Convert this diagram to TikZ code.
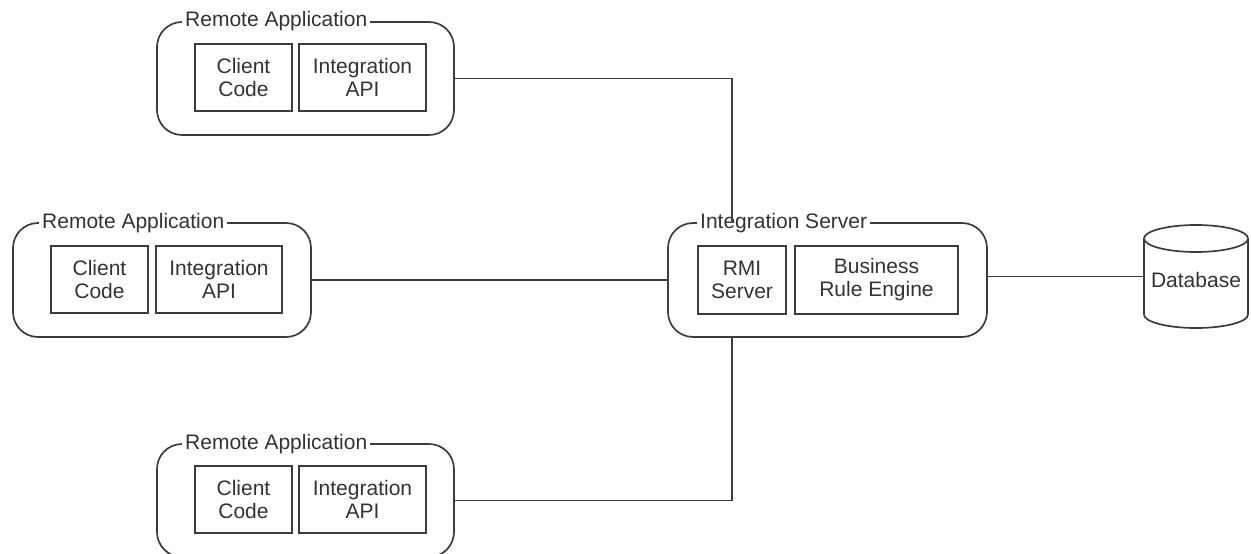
\documentclass[tikz,border=0pt]{standalone}
\usepackage{fontspec}
\setmainfont{Liberation Sans}
\definecolor{linegray}{HTML}{3C3C3C}
\definecolor{textgray}{HTML}{333333}
\begin{document}
\begin{tikzpicture}[x=1pt,y=-1pt,
  wire/.style={draw=linegray, line width=1.7pt},
  container/.style={draw=linegray, line width=1.7pt, rounded corners=25pt, inner sep=0pt},
  part/.style={draw=linegray, line width=1.7pt, inner sep=0pt, align=center,
    text=textgray, font=\fontsize{21}{23}\selectfont},
  title/.style={fill=white, inner xsep=3pt, inner ysep=1pt, anchor=base west,
    text=textgray, font=\fontsize{21}{23}\selectfont},
  plain/.style={text=textgray, font=\fontsize{21}{23}\selectfont}]
\useasboundingbox (0,0) rectangle (1251,554);
\clip (0,0) rectangle (1251,554);

% remote application (top)
\node[container, minimum width=297pt, minimum height=113pt] (app1) at (305.5,78.5) {};
\node[title] (app1-title) at (182,27) {Remote Application};
\node[part, minimum width=97pt, minimum height=67pt] (app1-client) at (243.5,77.5) {Client\\Code};
\node[part, minimum width=127pt, minimum height=67pt] (app1-api) at (362.5,77.5) {Integration\\API};

% remote application (middle)
\node[container, minimum width=298pt, minimum height=114pt] (app2) at (162,280) {};
\node[title] (app2-title) at (39,228) {Remote Application};
\node[part, minimum width=97pt, minimum height=67pt] (app2-client) at (99.5,279.5) {Client\\Code};
\node[part, minimum width=126pt, minimum height=67pt] (app2-api) at (219,279.5) {Integration\\API};

% remote application (bottom)
\node[container, minimum width=297pt, minimum height=113pt] (app3) at (305.5,500.5) {};
\node[title] (app3-title) at (182,449) {Remote Application};
\node[part, minimum width=97pt, minimum height=67pt] (app3-client) at (243.5,499.5) {Client\\Code};
\node[part, minimum width=127pt, minimum height=67pt] (app3-api) at (362.5,499.5) {Integration\\API};

% integration server
\node[container, minimum width=319pt, minimum height=114pt] (srv) at (827.5,280) {};
\node[title] (srv-title) at (697,228) {Integration Server};
\node[part, minimum width=88pt, minimum height=68pt] (srv-rmi) at (742,280) {RMI\\Server};
\node[part, minimum width=163pt, minimum height=68pt] (srv-bre) at (876.5,280) {Business\\Rule Engine};

% database cylinder
\node[minimum width=104pt, minimum height=103pt, inner sep=0pt] (db) at (1196,276.5) {};
\draw[wire] (1196,238.5) ellipse [x radius=52pt, y radius=13.5pt];
\draw[wire] (1144,238.5) -- (1144,314.5)
  arc[start angle=180, end angle=360, x radius=52pt, y radius=13.5pt] -- (1248,238.5);
\node[plain] (db-text) at ([yshift=-3.5pt]db.center) {Database};

% connectors
\coordinate (trunk) at (732,0);
\draw[wire] (app1.east) -| (trunk |- srv.north);
\draw[wire] (app2.east) -- (srv.west);
\draw[wire] (app3.east) -| (trunk |- srv.south);
\draw[wire] (db.west) -- (db.west -| srv.east);
\end{tikzpicture}
\end{document}
